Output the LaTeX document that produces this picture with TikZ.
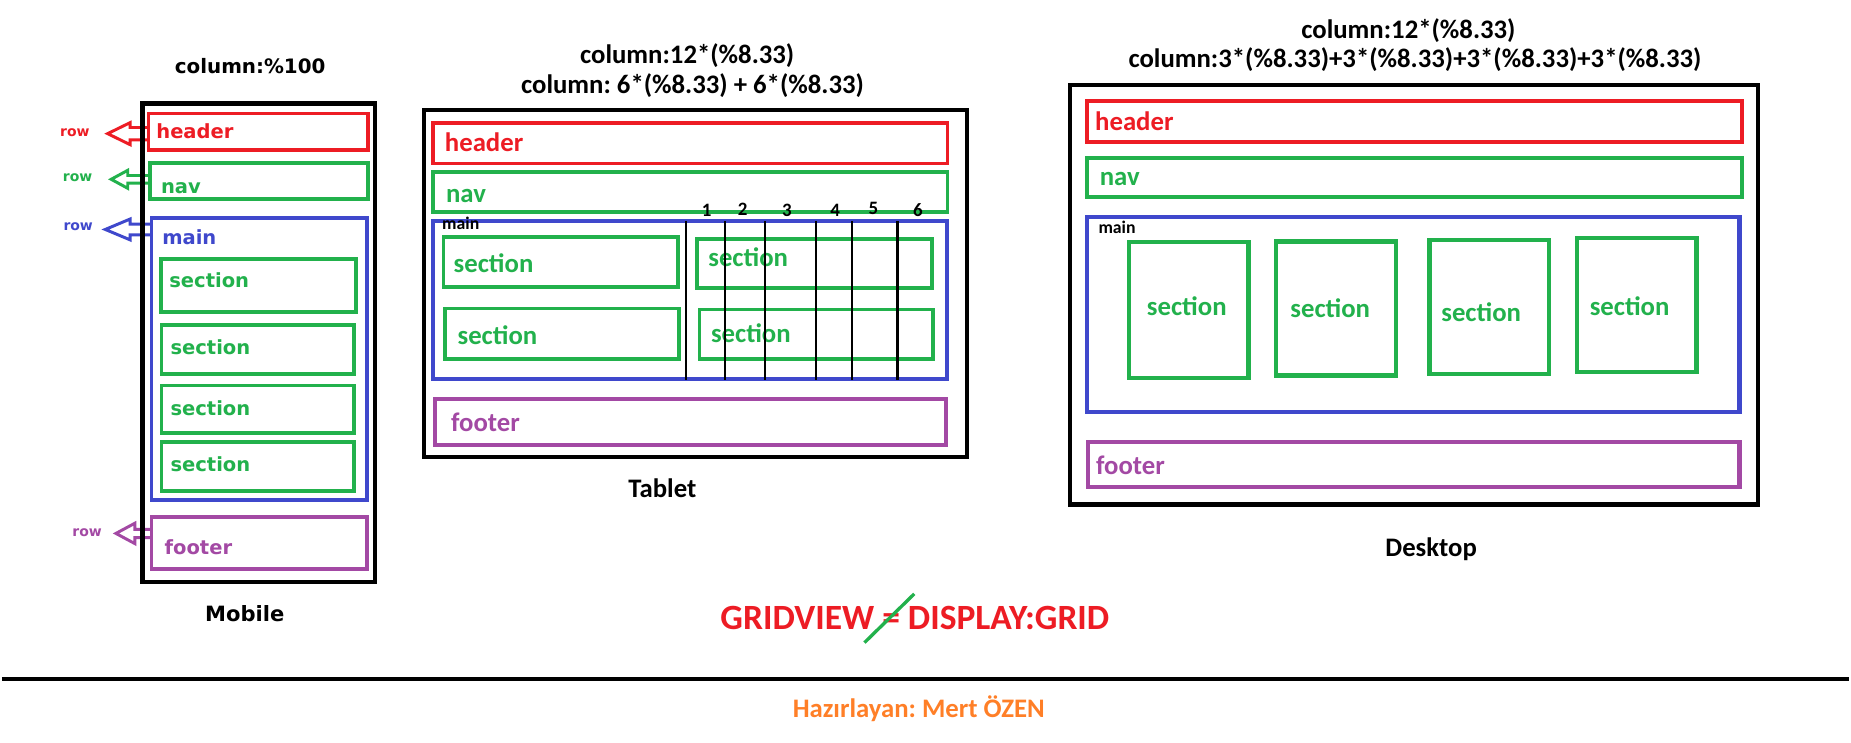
\documentclass[tikz,border=0pt]{standalone}
\usepackage{fontspec}
\setmainfont{Carlito}
\newfontfamily\verdfont{DejaVu Sans}
\usetikzlibrary{fit,calc}
\frenchspacing
\definecolor{pred}{HTML}{ED1C24}
\definecolor{pgreen}{HTML}{22B14C}
\definecolor{pblue}{HTML}{3F48CC}
\definecolor{ppurple}{HTML}{A349A4}
\definecolor{porange}{HTML}{FF7F27}
\tikzset{
  bx/.style={draw=#1, line width=3.2pt, inner sep=0pt, outer sep=0pt},
  dbx/.style={draw=#1, line width=3.5pt, inner sep=0pt, outer sep=0pt},
  devframe/.style={draw=black, line width=3.6pt, inner sep=0pt, outer sep=0pt},
  clbl/.style={inner sep=0pt, anchor=base west, text=#1, font=\bfseries\fontsize{22.6}{26}\selectfont},
  vlbl/.style={inner sep=0pt, anchor=base west, text=#1, font=\verdfont\bfseries\fontsize{16.5}{20}\selectfont},
  rowlbl/.style={inner sep=0pt, anchor=base west, text=#1, font=\verdfont\bfseries\fontsize{11.8}{14}\selectfont},
  mainlbl/.style={inner sep=0pt, anchor=base west, text=black, font=\bfseries\fontsize{15}{18}\selectfont},
  numlbl/.style={inner sep=0pt, anchor=base, text=black, font=\bfseries\fontsize{16}{18}\selectfont},
  ttl/.style={inner sep=0pt, anchor=base, text=black, font=\bfseries\fontsize{22.6}{26}\selectfont},
  arrowln/.style={draw=#1, line width=2.5pt, line join=miter},
  colline/.style={draw=black, line width=2pt},
}
% #1 colour, #2 tail coordinate, #3 shaft length, #4 head length, #5 shaft half, #6 head half
\newcommand{\rowarrow}[6]{%
  \draw[arrowln=#1] ($(#2)+(0,-#5)$) -- ++(-#3,0) -- ++(0,-#6+#5) -- ++(-#4,#6) -- ++(#4,#6) -- ++(0,-#6+#5) -- ++(#3,0);
}
\begin{document}
\begin{tikzpicture}[x=1pt,y=-1pt]
\useasboundingbox[fill=white] (0,0) rectangle (1565,628.2);

% ================= MOBILE =================
\node[inner sep=0pt, anchor=base, font=\verdfont\bfseries\fontsize{16.8}{20}\selectfont] (mtitle) at (211.5,62) {column:\%100};

\node[bx=pred, fit={(125.5,96) (311,127)}] (mhdr) {};
\node[bx=pgreen, fit={(127,138) (311,168)}] (mnav) {};
\node[bx=pblue, fit={(128,184) (310,423)}] (mmain) {};
\node[bx=pgreen, fit={(136,219) (301,264)}] (ms1) {};
\node[bx=pgreen, fit={(136.5,275) (299.5,316)}] (ms2) {};
\node[bx=pgreen, fit={(136.5,326) (299.5,366)}] (ms3) {};
\node[bx=pgreen, fit={(136.5,374) (299.5,415)}] (ms4) {};
\node[bx=ppurple, fit={(128,437) (310,481)}] (mfoot) {};

\node[vlbl=pred] (mhdrt) at (132,117.5) {header};
\node[vlbl=pgreen] (mnavt) at (136,164) {nav};
\node[vlbl=pblue] (mmaint) at (137,207) {main};
\node[vlbl=pgreen] (ms1t) at (143,243) {section};
\node[vlbl=pgreen] (ms2t) at (144,300) {section};
\node[vlbl=pgreen] (ms3t) at (144,351) {section};
\node[vlbl=pgreen] (ms4t) at (144,399) {section};
\node[vlbl=ppurple] (mfoott) at (139,469) {footer};

\node[rowlbl=pred] (row1) at (50.7,115.5) {row};
\node[rowlbl=pgreen] (row2) at (53,153.6) {row};
\node[rowlbl=pblue] (row3) at (53.5,195) {row};
\node[rowlbl=ppurple] (row4) at (61,454) {row};

\coordinate (ta1) at (mhdr.west |- 0,113);
\coordinate (ta2) at (mnav.west |- 0,151.6);
\coordinate (ta3) at (mmain.west |- 0,194);
\coordinate (ta4) at (mfoot.west |- 0,451);
\rowarrow{pred}{ta1}{15.5}{19}{5.2}{9.3}
\rowarrow{pgreen}{ta2}{19}{14}{3.2}{7.6}
\rowarrow{pblue}{ta3}{18}{21}{4.5}{8.8}
\rowarrow{ppurple}{ta4}{14}{16}{3.5}{8.6}

\node[devframe, fit={(120.5,87.5) (317,492)}] (mframe) {};
\node[inner sep=0pt, anchor=base, font=\verdfont\bfseries\fontsize{17.8}{20}\selectfont] (mcap) at (207,525.5) {Mobile};

% ================= TABLET =================
\node[ttl] (ttitle1) at (581,53.4) {column:12*(\%8.33)};
\node[ttl] (ttitle2) at (585.5,79.2) {column: 6*(\%8.33) + 6*(\%8.33)};

\node[devframe, fit={(358.5,92.8) (817.5,386.6)}] (tframe) {};
\node[bx=pred, fit={(366.3,104.1) (801,138.2)}] (thdr) {};
\node[bx=pgreen, fit={(366.3,145.5) (801,179)}] (tnav) {};
\node[bx=pblue, fit={(366.3,187) (800.5,320.5)}] (tmain) {};
\node[bx=pgreen, fit={(375,200.7) (573,242.7)}] (tl1) {};
\node[bx=pgreen, fit={(376.3,260.9) (574,303.2)}] (tl2) {};
\node[bx=pgreen, fit={(589.6,201.8) (788,243.5)}] (tr1) {};
\node[bx=pgreen, fit={(591.5,261.7) (788.7,303.7)}] (tr2) {};
\node[bx=ppurple, fit={(368,337.3) (799.7,376)}] (tfoot) {};

\node[clbl=pred] (thdrt) at (376,128.4) {header};
\node[clbl=pgreen] (tnavt) at (377,171) {nav};
\node[mainlbl] (tmaint) at (373.7,194.2) {main};
\node[clbl=pgreen] (tl1t) at (383.4,230.6) {section};
\node[clbl=pgreen] (tl2t) at (386.7,291) {section};
\node[clbl=pgreen] (tr1t) at (598.7,225) {section};
\node[clbl=pgreen] (tr2t) at (601,290) {section};
\node[clbl=ppurple] (tfoott) at (381.2,365) {footer};

\foreach \i/\x in {1/580.2, 2/613, 3/646.9, 4/690, 5/720.6, 6/758.7}{
  \coordinate (vt\i) at (\x,187);
  \coordinate (vb\i) at (\x,321);
  \draw[colline] (vt\i) -- (vb\i);
}
\node[numlbl] (n1) at (597.5,183.2) {1};
\node[numlbl] (n2) at (628,182.3) {2};
\node[numlbl] (n3) at (665.3,183.2) {3};
\node[numlbl] (n4) at (706.2,183.2) {4};
\node[numlbl] (n5) at (738.5,181) {5};
\node[numlbl] (n6) at (776,183) {6};

\node[ttl] (tcap) at (560,420.8) {Tablet};

% ================= DESKTOP =================
\node[ttl] (dtitle1) at (1190.8,32.4) {column:12*(\%8.33)};
\node[ttl] (dtitle2) at (1196.3,57.1) {column:3*(\%8.33)+3*(\%8.33)+3*(\%8.33)+3*(\%8.33)};

\node[devframe, line width=4pt, fit={(904.7,71.9) (1486.3,426.5)}] (dframe) {};
\node[dbx=pred, fit={(918.8,85.5) (1472.6,120.3)}] (dhdr) {};
\node[dbx=pgreen, fit={(918.8,133.3) (1472.6,166.5)}] (dnav) {};
\node[dbx=pblue, fit={(918.8,183.3) (1470.7,348.6)}] (dmain) {};
\node[dbx=pgreen, fit={(954.6,204.9) (1055.6,319.4)}] (ds1) {};
\node[dbx=pgreen, fit={(1078.8,204.2) (1180.1,317.5)}] (ds2) {};
\node[dbx=pgreen, fit={(1208.6,202.7) (1309.5,316.3)}] (ds3) {};
\node[dbx=pgreen, fit={(1333,201.4) (1434.3,314.7)}] (ds4) {};
\node[dbx=ppurple, fit={(920,374) (1470.7,412)}] (dfoot) {};

\node[clbl=pred] (dhdrt) at (925.8,110.1) {header};
\node[clbl=pgreen] (dnavt) at (929.7,157) {nav};
\node[mainlbl] (dmaint) at (928.6,197.5) {main};
\node[clbl=pgreen, anchor=base] (ds1t) at (1003.4,267) {section};
\node[clbl=pgreen, anchor=base] (ds2t) at (1124.7,268.5) {section};
\node[clbl=pgreen, anchor=base] (ds3t) at (1252.3,271.6) {section};
\node[clbl=pgreen, anchor=base] (ds4t) at (1377.8,267) {section};
\node[clbl=ppurple] (dfoott) at (926.6,401.2) {footer};

\node[ttl] (dcap) at (1210,470.6) {Desktop};

% ================= BOTTOM =================
\node[inner sep=0pt, anchor=base, text=pred, font=\bfseries\fontsize{30}{34}\selectfont] (grid) at (773.5,532.6) {GRIDVIEW = DISPLAY:GRID};
\coordinate (sl1) at (730.9,543.3);
\coordinate (sl2) at (773,502.1);
\draw[draw=pgreen, line width=2.8pt] (sl1) -- (sl2);

\coordinate (hl1) at (1.5,574);
\coordinate (hl2) at (1563.5,574);
\draw[draw=black, line width=3.4pt] (hl1) -- (hl2);

\node[inner sep=0pt, anchor=base, text=porange, font=\bfseries\fontsize{22.6}{26}\selectfont] (author) at (776.8,606.4) {Hazırlayan: Mert ÖZEN};
\end{tikzpicture}
\end{document}
